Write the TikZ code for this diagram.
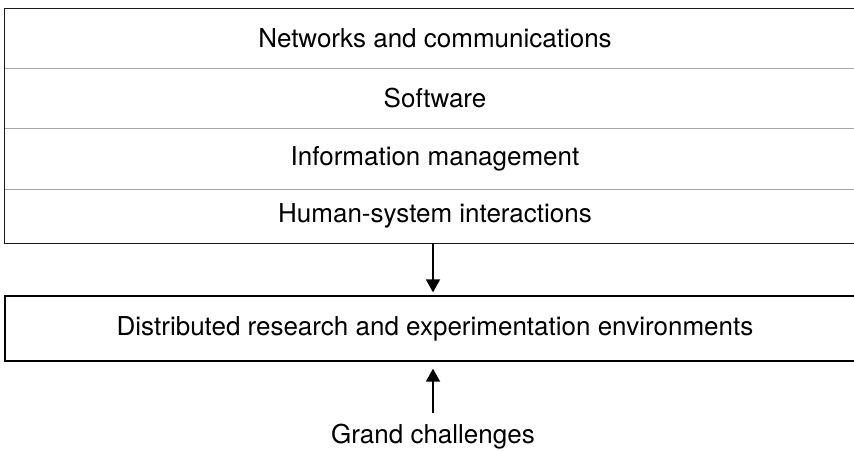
\documentclass[tikz,border=0pt]{standalone}
\usepackage{fontspec}
\setmainfont{TeX Gyre Heros}
\usetikzlibrary{arrows.meta}

\tikzset{
  layer/.style={minimum width=860pt, minimum height=60pt, inner sep=0pt,
    font=\fontsize{26}{30}\selectfont},
  sep/.style={gray!70, line width=1pt},
  frame/.style={black!90, line width=1.3pt},
  flow/.style={-{Triangle[width=14pt,length=13pt]}, line width=1.8pt}
}

\begin{document}
\begin{tikzpicture}[x=1pt, y=-1pt]
  \useasboundingbox (0,0) rectangle (854,452);

  % Capas del bloque superior
  \node[layer, minimum height=59pt] (net) at (435,38.5) {Networks and communications};
  \node[layer] (soft) at (435,98) {Software};
  \node[layer, minimum height=61pt] (info) at (435,158.5) {Information management};
  \node[layer, minimum height=54pt] (hsi) at (435,216) {Human-system interactions};

  % Separadores y marco
  \draw[sep] (net.south west) -- (net.south east);
  \draw[sep] (soft.south west) -- (soft.south east);
  \draw[sep] (info.south west) -- (info.south east);
  \draw[frame] (net.north west) rectangle (hsi.south east);

  % Entorno distribuido
  \node[layer, minimum height=65pt, draw=black, line width=1.3pt] (env) at (435,328.5)
    {Distributed research and experimentation environments};

  % Grandes retos
  \node[font=\fontsize{26}{30}\selectfont, inner xsep=0pt, inner ysep=10.5pt] (grand) at (433,436.5) {Grand challenges};

  % Flechas
  \draw[flow, shorten >=3pt] (hsi.south -| grand) -- (env.north -| grand);
  \draw[flow, shorten >=7pt] (grand.north) -- (env.south -| grand);
\end{tikzpicture}
\end{document}
